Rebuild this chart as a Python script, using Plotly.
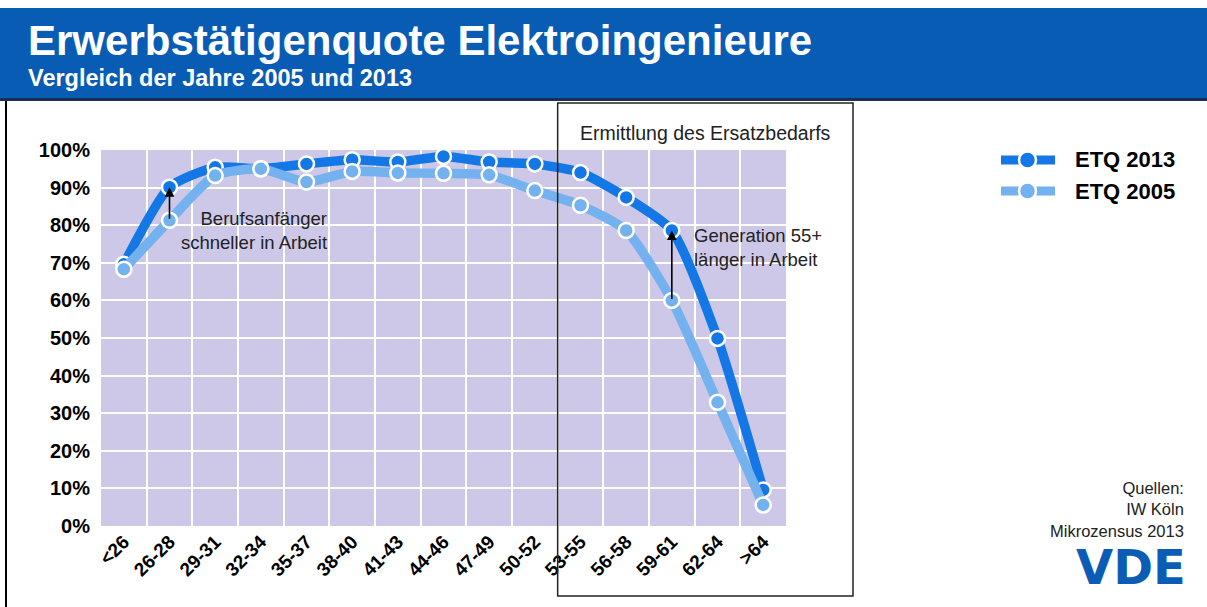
import plotly.graph_objects as go

# ---------------- data ----------------
age_groups = ['<26', '26-28', '29-31', '32-34', '35-37', '38-40', '41-43', '44-46',
              '47-49', '50-52', '53-55', '56-58', '59-61', '62-64', '>64']
etq_2013 = [69.6, 90.1, 95.4, 95.0, 96.3, 97.4, 96.8, 98.3, 96.8, 96.3, 94.0, 87.4, 78.6, 49.9, 9.6]
etq_2005 = [68.3, 81.3, 93.2, 95.0, 91.5, 94.3, 93.9, 93.8, 93.4, 89.2, 85.3, 78.6, 60.0, 32.9, 5.6]
series_names = ['ETQ 2013', 'ETQ 2005']
y_ticks = [0, 10, 20, 30, 40, 50, 60, 70, 80, 90, 100]
y_tick_labels = [f'{v}%' for v in y_ticks]

# ---------------- styling ----------------
W, H = 1207, 607
PL, PR, PT, PB = 101, 786, 150, 526   # plot area in pixels
FONT = 'Liberation Sans'
C13 = '#1477e6'
C05 = '#74b1ef'
BANNER = '#085cb4'
PURPLE = '#cdc8e8'


def X(px):
    return (px - PL) / (PR - PL)


def Y(py):
    return (PB - py) / (PB - PT)


n = len(age_groups)

fig = go.Figure()
for name, vals, col in [(series_names[0], etq_2013, C13), (series_names[1], etq_2005, C05)]:
    fig.add_trace(go.Scatter(
        x=age_groups, y=vals, name=name, mode='lines+markers',
        line=dict(color=col, width=9.5, shape='spline', smoothing=0.6),
        marker=dict(size=15, color=col, line=dict(color='white', width=2.5)),
        showlegend=False, cliponaxis=False,
    ))

shapes = [
    # header banner
    dict(type='rect', xref='paper', yref='paper', x0=X(0), x1=X(W), y0=Y(98), y1=Y(8),
         fillcolor=BANNER, line=dict(width=0), layer='below'),
    dict(type='line', xref='paper', yref='paper', x0=X(0), x1=X(W), y0=Y(99.5), y1=Y(99.5),
         line=dict(color='#1c2e55', width=3)),
    # frame left border
    dict(type='line', xref='paper', yref='paper', x0=X(6), x1=X(6), y0=Y(101), y1=Y(H + 5),
         line=dict(color='black', width=2)),
    # "Ermittlung des Ersatzbedarfs" box (starts at boundary between 50-52 and 53-55)
    dict(type='rect', xref='paper', yref='paper',
         x0=(age_groups.index('53-55')) / n, x1=X(853), y0=Y(596), y1=Y(103),
         line=dict(color='#222222', width=1.5), fillcolor='rgba(0,0,0,0)', layer='above'),
]

# custom legend
legend_rows = [(series_names[0], C13, 160), (series_names[1], C05, 191)]
annotations = []
for name, col, yy in legend_rows:
    shapes.append(dict(type='line', xref='paper', yref='paper', x0=X(1001), x1=X(1055),
                       y0=Y(yy), y1=Y(yy), line=dict(color=col, width=9)))
    shapes.append(dict(type='circle', xref='paper', yref='paper', x0=X(1019), x1=X(1036),
                       y0=Y(yy + 8.5), y1=Y(yy - 8.5), fillcolor=col,
                       line=dict(color='white', width=2.5)))
    annotations.append(dict(xref='paper', yref='paper', x=X(1073), y=Y(yy), text=name,
                            showarrow=False, xanchor='left', yanchor='middle',
                            font=dict(family=FONT, size=22, color='black', weight='bold')))

# arrows from 2005 value to 2013 value
for grp in ['26-28', '59-61']:
    i = age_groups.index(grp)
    annotations.append(dict(x=i, y=etq_2013[i], ax=i, ay=etq_2005[i], xref='x', yref='y',
                            axref='x', ayref='y', text='', showarrow=True, arrowhead=2,
                            arrowsize=1.2, arrowwidth=1.6, arrowcolor='black', standoff=0,
                            startstandoff=0))

# title block (title + subtitle in one text)
annotations.append(dict(
    xref='paper', yref='paper', x=X(26), y=Y(15), xanchor='left', yanchor='top', align='left',
    showarrow=False,
    text="<span style='font-size:42px'>Erwerbstätigenquote Elektroingenieure</span><br>"
         "Vergleich der Jahre 2005 und 2013",
    font=dict(family=FONT, size=23.5, color='white', weight='bold')))

text_items = [
    ('Ermittlung des Ersatzbedarfs', 705, 132.5, 'center', 19.5, '#222222', 'normal', FONT),
    ('Berufsanfänger<br>schneller in Arbeit', 329, 230, 'right', 18.5, '#222222', 'normal', FONT),
    ('Generation 55+<br>länger in Arbeit', 692, 247, 'left', 18.5, '#222222', 'normal', FONT),
    ('Quellen:<br>IW Köln<br>Mikrozensus 2013', 1186, 509, 'right', 16.5, '#222222', 'normal', FONT),
    ('VDE', 1188, 567, 'right', 48, '#0b5cb5', 'bold', 'DejaVu Sans'),
]
for txt, px, py, anchor, size, col, weight, fam in text_items:
    annotations.append(dict(xref='paper', yref='paper', x=X(px), y=Y(py), text=txt,
                            showarrow=False, xanchor=anchor, yanchor='middle', align=anchor,
                            font=dict(family=fam, size=size, color=col, weight=weight)))

fig.update_layout(
    width=W, height=H,
    margin=dict(l=PL, r=W - PR, t=PT, b=H - PB, pad=0),
    paper_bgcolor='white', plot_bgcolor=PURPLE,
    showlegend=False,
    shapes=shapes, annotations=annotations,
    xaxis=dict(type='category', range=[-0.5, n - 0.5], tickson='boundaries',
               showgrid=True, gridcolor='white', gridwidth=2, zeroline=False,
               ticks='outside', ticklen=4, tickcolor='white', tickwidth=2,
               tickangle=-45, showline=False,
               tickfont=dict(family=FONT, size=19, color='black', weight='bold')),
    yaxis=dict(range=[0, 100], tickmode='array', tickvals=y_ticks, ticktext=y_tick_labels,
               showgrid=True, gridcolor='white', gridwidth=2, zeroline=False,
               ticks='outside', ticklen=6, tickcolor='white', tickwidth=2, showline=False,
               tickfont=dict(family=FONT, size=20, color='black', weight='bold')),
)

fig.write_html('out.html', config={'displayModeBar': False},
               post_script="document.body.style.margin='0px';document.body.style.overflow='hidden';")
